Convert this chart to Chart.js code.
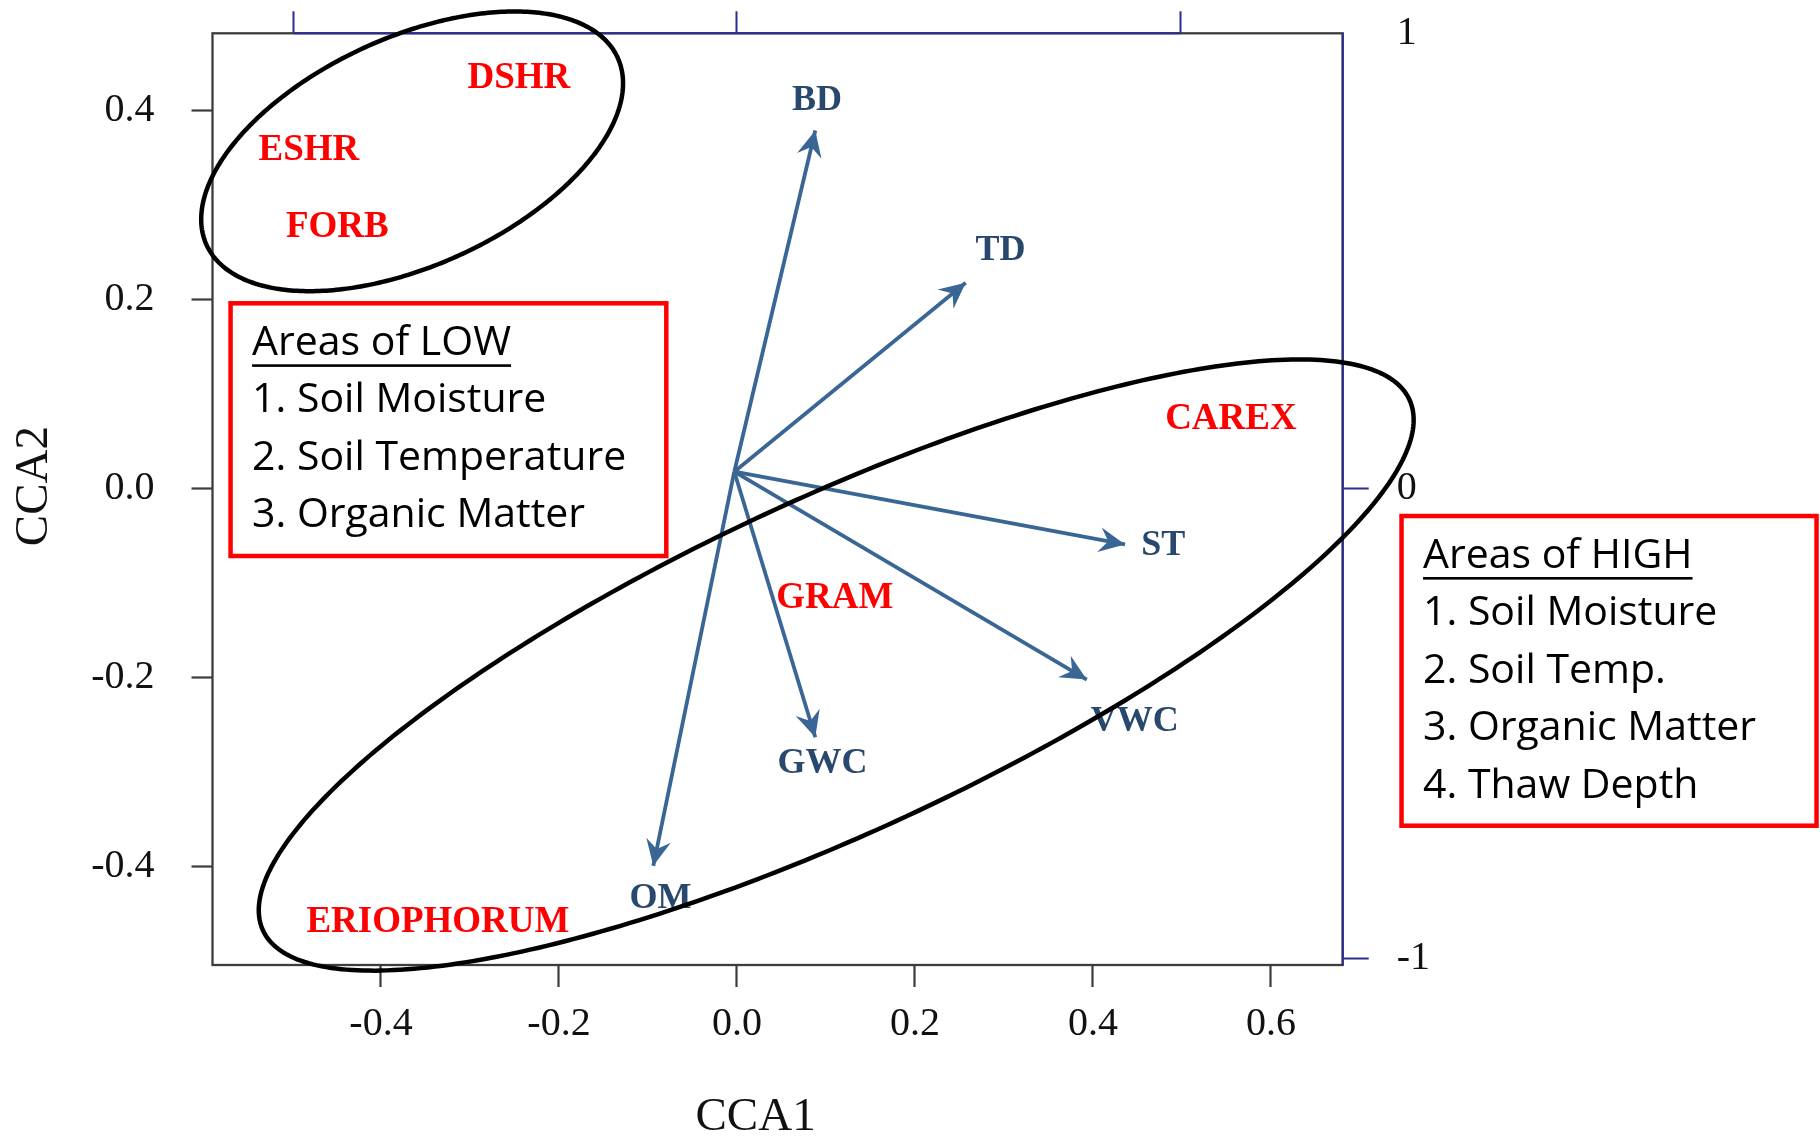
<!DOCTYPE html>
<html>
<head>
<meta charset="utf-8">
<title>CCA biplot</title>
<script src="https://cdn.jsdelivr.net/npm/chart.js@4.4.1/dist/chart.umd.min.js"></script>
<style>
	html, body { margin: 0; padding: 0; background: #fff; }
	#wrap { width: 1820px; height: 1139px; }
</style>
</head>
<body>
<div id="wrap"><canvas id="cca" width="1820" height="1139"></canvas></div>
<script>
/* species scores */
const speciesNames = ['DSHR', 'ESHR', 'FORB', 'CAREX', 'GRAM', 'ERIOPHORUM'];
const speciesCCA1 = [-0.245, -0.481, -0.449, 0.555, 0.110, -0.336];
const speciesCCA2 = [0.434, 0.358, 0.276, 0.073, -0.116, -0.459];

/* environmental vectors (arrow tips + where the names sit) */
const envNames = ['BD', 'TD', 'ST', 'VWC', 'GWC', 'OM'];
const envCCA1 = [0.088, 0.257, 0.436, 0.393, 0.088, -0.094];
const envCCA2 = [0.379, 0.218, -0.059, -0.202, -0.263, -0.399];
const envLabelCCA1 = [0.090, 0.296, 0.479, 0.447, 0.096, -0.086];
const envLabelCCA2 = [0.411, 0.252, -0.060, -0.247, -0.291, -0.434];
const arrowOrigin = [-0.003, 0.018];

/* ticks */
const cca1Ticks = [-0.4, -0.2, 0.0, 0.2, 0.4, 0.6];
const cca2Ticks = [-0.4, -0.2, 0.0, 0.2, 0.4];
const biplotTicks = [-1, 0, 1];

/* notes */
const lowTitle = 'Areas of LOW';
const lowItems = ['1. Soil Moisture', '2. Soil Temperature', '3. Organic Matter'];
const highTitle = 'Areas of HIGH';
const highItems = ['1. Soil Moisture', '2. Soil Temp.', '3. Organic Matter', '4. Thaw Depth'];

/* group rings, in CCA units: center plus two conjugate radii */
const groupRings = [
	{ center: [-0.365, 0.357], u: [0.231, 0.099], v: [0.053, -0.110] },
	{ center: [0.1115, -0.1866], u: [0.644, 0.281], v: [0.079, -0.160] },
];

/* note boxes, in CCA units */
const lowBox = { x0: -0.569, x1: -0.0794, y0: 0.1962, y1: -0.0712 };
const highBox = { x0: 0.7467, x1: 1.213, y0: -0.0289, y1: -0.3566 };

/* styles */
const SERIF = '"Liberation Serif", "Times New Roman", serif';
const SANS = '"Open Sans", Lato, sans-serif';
const AXIS_GREY = '#3c3c3c';
const AXIS_BLUE = '#2b2b92';
const ARROW_BLUE = '#3a6695';
const ENV_TEXT = '#29486e';
const RED = '#ff0000';

// fixed axis sizes, and no label overhang pushing the plot box around
const fitWidth = (w) => (scale) => {
	scale.width = w;
	scale.paddingTop = 0;
	scale.paddingBottom = 0;
};
const fitHeight = (h) => (scale) => {
	scale.height = h;
	scale.paddingLeft = 0;
	scale.paddingRight = 0;
};
const setTicks = (values) => (scale) => { scale.ticks = values.map(value => ({ value })); };

const tickFont = { family: SERIF, size: 40 };

/* arrowhead with a notched back, pointing from -> to */
const drawArrowHead = (ctx, from, to) => {
	const angle = Math.atan2(to.y - from.y, to.x - from.x);
	ctx.save();
	ctx.translate(to.x, to.y);
	ctx.rotate(angle);
	ctx.beginPath();
	ctx.moveTo(0, 0);
	ctx.lineTo(-26, -12.5);
	ctx.lineTo(-17, 0);
	ctx.lineTo(-26, 12.5);
	ctx.closePath();
	ctx.fillStyle = ARROW_BLUE;
	ctx.fill();
	ctx.restore();
};

const markersPlugin = {
	id: 'markers',
	afterDatasetsDraw(chart) {
		const { ctx, scales: { x, y } } = chart;
		ctx.save();

		// arrowheads at the end of each vector
		chart.data.datasets.forEach((ds, i) => {
			if (ds.kind !== 'env') return;
			const pts = chart.getDatasetMeta(i).data;
			drawArrowHead(ctx, pts[0], pts[1]);
		});

		ctx.textAlign = 'center';
		ctx.textBaseline = 'middle';

		// species names
		ctx.font = `bold 37px ${SERIF}`;
		ctx.fillStyle = RED;
		chart.getDatasetMeta(0).data.forEach((pt, i) => {
			ctx.fillText(speciesNames[i], pt.x, pt.y);
		});

		// vector names
		ctx.font = `bold 36px ${SERIF}`;
		ctx.fillStyle = ENV_TEXT;
		envNames.forEach((name, i) => {
			ctx.fillText(name, x.getPixelForValue(envLabelCCA1[i]), y.getPixelForValue(envLabelCCA2[i]));
		});
		ctx.restore();
	},
};

const drawRing = (ctx, x, y, ring) => {
	ctx.beginPath();
	for (let k = 0; k <= 360; k++) {
		const t = k * Math.PI / 180;
		const cx = ring.center[0] + ring.u[0] * Math.cos(t) + ring.v[0] * Math.sin(t);
		const cy = ring.center[1] + ring.u[1] * Math.cos(t) + ring.v[1] * Math.sin(t);
		const px = x.getPixelForValue(cx);
		const py = y.getPixelForValue(cy);
		if (k === 0) ctx.moveTo(px, py); else ctx.lineTo(px, py);
	}
	ctx.closePath();
	ctx.stroke();
};

const drawNote = (ctx, x, y, box, title, items) => {
	const left = x.getPixelForValue(box.x0);
	const right = x.getPixelForValue(box.x1);
	const top = y.getPixelForValue(box.y0);
	const bottom = y.getPixelForValue(box.y1);

	ctx.fillStyle = '#fff';
	ctx.fillRect(left, top, right - left, bottom - top);
	ctx.strokeStyle = RED;
	ctx.lineWidth = 4.5;
	ctx.strokeRect(left, top, right - left, bottom - top);

	const textX = left + 21.5;
	const lineGap = 57.5;
	let lineY = top + 40;
	ctx.font = `41px ${SANS}`;
	ctx.fillStyle = '#000';
	ctx.textAlign = 'left';
	ctx.textBaseline = 'middle';
	ctx.fillText(title, textX, lineY);

	// underline the heading
	const w = ctx.measureText(title).width;
	ctx.fillRect(textX, lineY + 21, w, 2.6);

	items.forEach((item) => {
		lineY += lineGap;
		ctx.fillText(item, textX, lineY);
	});
};

const framePlugin = {
	id: 'frame',
	afterDraw(chart) {
		const { ctx, chartArea: area, scales: { x, y, x2 } } = chart;
		ctx.save();

		// plot box, with the biplot axes in blue on top and right
		ctx.lineWidth = 2.3;
		ctx.strokeStyle = AXIS_GREY;
		ctx.strokeRect(area.left, area.top, area.right - area.left, area.bottom - area.top);
		ctx.strokeStyle = AXIS_BLUE;
		ctx.lineWidth = 2;
		ctx.beginPath();
		ctx.moveTo(x2.getPixelForValue(biplotTicks[0]), area.top);
		ctx.lineTo(x2.getPixelForValue(biplotTicks[biplotTicks.length - 1]), area.top);
		ctx.moveTo(area.right, area.top);
		ctx.lineTo(area.right, area.bottom);
		ctx.stroke();

		// group rings
		ctx.strokeStyle = '#000';
		ctx.lineWidth = 4.5;
		groupRings.forEach(ring => drawRing(ctx, x, y, ring));

		// notes
		drawNote(ctx, x, y, lowBox, lowTitle, lowItems);
		drawNote(ctx, x, y, highBox, highTitle, highItems);

		// axis titles
		ctx.fillStyle = '#111';
		ctx.font = `47px ${SERIF}`;
		ctx.textAlign = 'center';
		ctx.textBaseline = 'middle';
		ctx.fillText('CCA1', area.left + 0.4805 * (area.right - area.left), chart.height - 21);
		ctx.translate(35, area.top + 0.486 * (area.bottom - area.top));
		ctx.rotate(-Math.PI / 2);
		ctx.fillText('CCA2', 0, 0);

		ctx.restore();
	},
};

const whiteBackground = {
	id: 'whiteBackground',
	beforeDraw(chart) {
		const { ctx } = chart;
		ctx.save();
		ctx.fillStyle = '#fff';
		ctx.fillRect(0, 0, chart.width, chart.height);
		ctx.restore();
	},
};

const speciesData = speciesNames.map((name, i) => ({ x: speciesCCA1[i], y: speciesCCA2[i] }));

const envDatasets = envNames.map((name, i) => ({
	label: name,
	kind: 'env',
	data: [
		{ x: arrowOrigin[0], y: arrowOrigin[1] },
		{ x: envCCA1[i], y: envCCA2[i] },
	],
	showLine: true,
	borderColor: ARROW_BLUE,
	borderWidth: 3.8,
	pointRadius: 0,
	clip: false,
}));

new Chart(document.getElementById('cca'), {
	type: 'scatter',
	data: {
		datasets: [
			{ label: 'species', data: speciesData, pointRadius: 0, showLine: false },
			...envDatasets,
		],
	},
	options: {
		responsive: false,
		animation: false,
		events: [],
		layout: { padding: 0 },
		plugins: {
			legend: { display: false },
			tooltip: { enabled: false },
		},
		scales: {
			x: {
				type: 'linear',
				position: 'bottom',
				min: -0.5893,
				max: 0.6806,
				afterBuildTicks: setTicks(cca1Ticks),
				afterFit: fitHeight(174),
				border: { display: false },
				grid: { drawOnChartArea: false, tickLength: 22, tickWidth: 2.2, tickColor: AXIS_GREY },
				ticks: { font: tickFont, color: '#111', padding: 13, maxRotation: 0, callback: v => v.toFixed(1) },
			},
			y: {
				type: 'linear',
				position: 'left',
				min: -0.504,
				max: 0.4819,
				afterBuildTicks: setTicks(cca2Ticks),
				afterFit: fitWidth(212.5),
				border: { display: false },
				grid: { drawOnChartArea: false, tickLength: 21, tickWidth: 2.2, tickColor: AXIS_GREY },
				ticks: { font: tickFont, color: '#111', padding: 37, callback: v => v.toFixed(1) },
			},
			x2: {
				type: 'linear',
				position: 'top',
				min: -1.1834,
				max: 1.3667,
				afterBuildTicks: setTicks(biplotTicks),
				afterFit: fitHeight(33.3),
				border: { display: false },
				grid: { drawOnChartArea: false, tickLength: 22, tickWidth: 2, tickColor: AXIS_BLUE },
				ticks: { display: false },
			},
			y2: {
				type: 'linear',
				position: 'right',
				min: -1.0134,
				max: 0.969,
				// the top label sits on the box corner
				afterBuildTicks: (scale) => {
					scale.ticks = biplotTicks.map(value => ({ value: Math.min(value, scale.max) }));
				},
				afterFit: fitWidth(477.3),
				border: { display: false },
				grid: {
					drawOnChartArea: false,
					tickLength: 26,
					tickWidth: 2,
					tickColor: (ctx) => (ctx.tick && ctx.tick.value > 0.5 ? 'rgba(0,0,0,0)' : AXIS_BLUE),
				},
				ticks: { font: tickFont, color: '#111', padding: 28, callback: v => String(Math.round(v)) },
			},
		},
	},
	plugins: [whiteBackground, markersPlugin, framePlugin],
});
</script>
</body>
</html>
